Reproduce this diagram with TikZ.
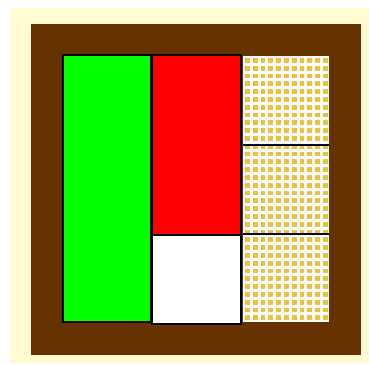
\documentclass[tikz,border=0pt]{standalone}
\usepackage{xcolor}
\definecolor{cream}{HTML}{FFFAD2}
\definecolor{frame}{HTML}{663300}
\definecolor{lime}{HTML}{00FF00}
\definecolor{dot}{HTML}{EBC040}

\begin{document}
\begin{tikzpicture}[
    x=0.025cm,y=-0.025cm,
    panel/.style={draw=black,line width=1.1pt},
    divider/.style={draw=black!85!blue,line width=1.1pt}
]
\useasboundingbox (0,0) rectangle (369,365);
\fill[white] (0,0) rectangle (369,365);
\fill[cream] (10,8) rectangle (369,363);
\fill[frame] (31,24) rectangle (361,355);
% dotted column
\fill[white] (243,56) rectangle (329,322);
\begin{scope}
\clip (243,56) rectangle (329,322);
\foreach \i in {0,...,11}
  \foreach \j in {0,...,34}
    \fill[dot] (245+7.8*\i,58+7.8*\j) rectangle ++(4.8,4.8);
\end{scope}
\draw[divider] (243,145) -- (329,145);
\draw[divider] (243,234) -- (329,234);
% coloured boxes
\filldraw[panel,fill=lime] (63,55) rectangle (151,322);
\filldraw[panel,fill=red] (152,55) rectangle (241,235);
\filldraw[panel,fill=white] (152,235) rectangle (241,324);
\end{tikzpicture}
\end{document}
